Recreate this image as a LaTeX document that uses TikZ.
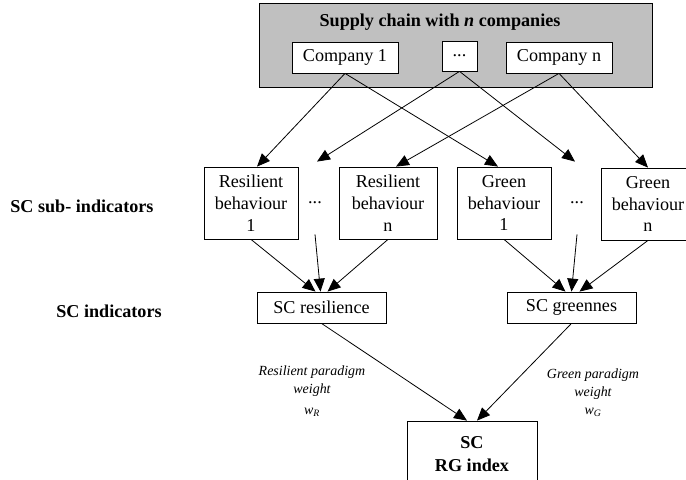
\documentclass[tikz,border=0pt]{standalone}
\usepackage{fontspec}
\setmainfont{Liberation Serif}
\usetikzlibrary{arrows.meta}
\tikzset{>={Triangle[length=13bp,width=11bp]}}
\definecolor{scgrey}{RGB}{192,192,192}

\begin{document}
\begin{tikzpicture}[x=1bp, y=-1bp, line width=0.8bp,
  box/.style={draw, fill=white, inner sep=0pt, align=center, font=\fontsize{18.2}{22}\selectfont},
  subbox/.style={box, minimum width=94bp, minimum height=72bp},
  dotsnode/.style={inner sep=0pt, minimum height=72bp, font=\fontsize{18.2}{22}\selectfont},
  lbl/.style={inner sep=0pt, align=center, font=\fontsize{18.2}{22}\selectfont\bfseries},
  wgt/.style={inner sep=0pt, align=center, font=\fontsize{14}{18}\selectfont\itshape}]
\useasboundingbox (0,0) rectangle (686,480);
% supply chain
\node[draw, fill=scgrey, inner sep=0pt, minimum width=393bp, minimum height=84bp] (sc) at (455.5,45) {};
\node[lbl] (title) at (440,22) {Supply chain with \textit{n} companies};
\node[box, minimum width=106bp, minimum height=31bp] (c1) at (345,57.5) {Company 1};
\node[box, minimum width=35bp, minimum height=30bp] (cd) at (459.5,56) {...};
\node[box, minimum width=106bp, minimum height=31bp] (cn) at (559,57.5) {Company n};
% sub-indicators
\node[subbox] (rb1) at (251,203) {Resilient\\behaviour\\1};
\node[dotsnode] (d1) at (315,203) {...};
\node[subbox, minimum width=98bp] (rbn) at (388,203) {Resilient\\behaviour\\n};
\node[subbox] (gb1) at (504,203) {Green\\behaviour\\1};
\node[dotsnode] (d2) at (577,203) {...};
\node[subbox] (gbn) at (648,204) {Green\\behaviour\\n};
% indicators
\node[box, minimum width=129bp, minimum height=31bp] (scr) at (321.5,307.5) {SC resilience};
\node[box, minimum width=129bp, minimum height=31bp] (scg) at (571.5,307.5) {SC greennes};
\node[box, minimum width=130bp, minimum height=66bp, font=\fontsize{18.2}{23}\selectfont\bfseries] (rg) at (472,454) {SC\\RG index};
% row labels
\node[lbl, anchor=west] (lsub) at (10,206) {SC sub- indicators};
\node[lbl] (lind) at (109,311) {SC indicators};
\node[wgt] (wr) at (312,391) {Resilient paradigm\\weight\\[3pt]w\textsubscript{R}};
\node[wgt] (wg) at (593,393) {Green paradigm\\weight\\w\textsubscript{G}};
% arrows
\draw[->] (c1.south) -- ([xshift=6bp]rb1.north);
\draw[->] (c1.south) -- ([xshift=-6bp]gb1.north);
\draw[->] (cd.south) -- ([xshift=2bp,yshift=5bp]d1.north);
\draw[->] (cd.south) -- ([xshift=-2bp,yshift=5bp]d2.north);
\draw[->] (cn.south) -- ([xshift=8bp]rbn.north);
\draw[->] (cn.south) -- (gbn.north);
\draw[->] (rb1.south) -- ([xshift=-6bp]scr.north);
\draw[->] ([yshift=5bp]d1.south) -- ([xshift=-1bp]scr.north);
\draw[->] (rbn.south) -- ([xshift=6bp]scr.north);
\draw[->] (gb1.south) -- ([xshift=-6bp]scg.north);
\draw[->] ([yshift=5bp]d2.south) -- (scg.north);
\draw[->] (gbn.south) -- ([xshift=8bp]scg.north);
\draw[->] (scr.south) -- ([xshift=-5bp]rg.north);
\draw[->] (scg.south) -- ([xshift=5bp]rg.north);
\end{tikzpicture}
\end{document}
